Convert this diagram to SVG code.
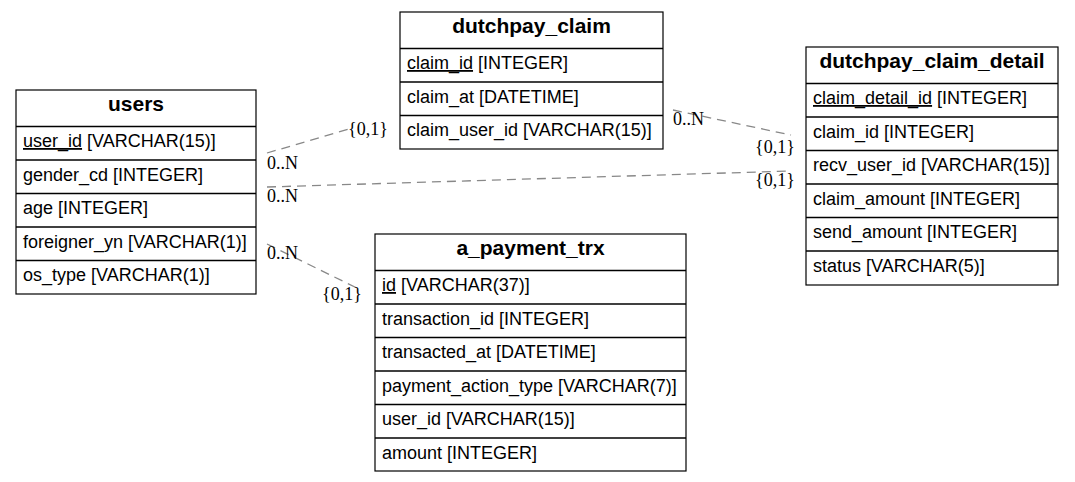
<svg xmlns="http://www.w3.org/2000/svg" width="1075" height="482" viewBox="0 0 1075 482">
<style>
.box{fill:#fff;stroke:#000;stroke-width:1.2}
.sep{stroke:#000;stroke-width:1.5}
.hd{font-family:"Liberation Sans",Arial,sans-serif;font-size:21px;font-weight:bold;text-anchor:middle;fill:#000}
.f{font-family:"Liberation Sans",Arial,sans-serif;font-size:18px;fill:#000}
.e{fill:none;stroke:#888;stroke-width:1.3;stroke-dasharray:9,6}
.lb{font-family:"Liberation Serif","Times New Roman",serif;font-size:18px;fill:#000}
.u{text-decoration:underline}
</style>
<rect width="1075" height="482" fill="#fff"/>
<g id="connectors">
<line class="e" x1="267" y1="153" x2="349" y2="129"/>
<line class="e" x1="267" y1="187" x2="791" y2="171"/>
<line class="e" x1="267" y1="244" x2="361" y2="290"/>
<line class="e" x1="673" y1="110" x2="791" y2="135"/>
<text class="lb" x="267" y="169">0..N</text>
<text class="lb" x="348" y="135">{0,1}</text>
<text class="lb" x="267" y="202">0..N</text>
<text class="lb" x="755" y="186">{0,1}</text>
<text class="lb" x="267" y="259">0..N</text>
<text class="lb" x="322" y="300">{0,1}</text>
<text class="lb" x="673" y="125">0..N</text>
<text class="lb" x="755" y="153">{0,1}</text>
</g>
<g id="users">
<rect class="box" x="16" y="90" width="240" height="204"/>
<line class="sep" x1="16" y1="126.5" x2="256" y2="126.5"/>
<line class="sep" x1="16" y1="160" x2="256" y2="160"/>
<line class="sep" x1="16" y1="193.5" x2="256" y2="193.5"/>
<line class="sep" x1="16" y1="227" x2="256" y2="227"/>
<line class="sep" x1="16" y1="260.5" x2="256" y2="260.5"/>
<text class="hd" x="136" y="111">users</text>
<text class="f" x="23" y="147"><tspan class="u">user_id</tspan> [VARCHAR(15)]</text>
<text class="f" x="23" y="180.5">gender_cd [INTEGER]</text>
<text class="f" x="23" y="214">age [INTEGER]</text>
<text class="f" x="23" y="247.5">foreigner_yn [VARCHAR(1)]</text>
<text class="f" x="23" y="281">os_type [VARCHAR(1)]</text>
</g>
<g id="dutchpay_claim">
<rect class="box" x="400" y="12" width="263" height="137"/>
<line class="sep" x1="400" y1="48.5" x2="663" y2="48.5"/>
<line class="sep" x1="400" y1="82" x2="663" y2="82"/>
<line class="sep" x1="400" y1="115.5" x2="663" y2="115.5"/>
<text class="hd" x="531.5" y="33">dutchpay_claim</text>
<text class="f" x="407" y="69"><tspan class="u">claim_id</tspan> [INTEGER]</text>
<text class="f" x="407" y="102.5">claim_at [DATETIME]</text>
<text class="f" x="407" y="136">claim_user_id [VARCHAR(15)]</text>
</g>
<g id="dutchpay_claim_detail">
<rect class="box" x="806" y="47" width="252" height="238"/>
<line class="sep" x1="806" y1="83.5" x2="1058" y2="83.5"/>
<line class="sep" x1="806" y1="117" x2="1058" y2="117"/>
<line class="sep" x1="806" y1="150.5" x2="1058" y2="150.5"/>
<line class="sep" x1="806" y1="184" x2="1058" y2="184"/>
<line class="sep" x1="806" y1="217.5" x2="1058" y2="217.5"/>
<line class="sep" x1="806" y1="251" x2="1058" y2="251"/>
<text class="hd" x="932" y="68">dutchpay_claim_detail</text>
<text class="f" x="813" y="104"><tspan class="u">claim_detail_id</tspan> [INTEGER]</text>
<text class="f" x="813" y="137.5">claim_id [INTEGER]</text>
<text class="f" x="813" y="171">recv_user_id [VARCHAR(15)]</text>
<text class="f" x="813" y="204.5">claim_amount [INTEGER]</text>
<text class="f" x="813" y="238">send_amount [INTEGER]</text>
<text class="f" x="813" y="271.5">status [VARCHAR(5)]</text>
</g>
<g id="a_payment_trx">
<rect class="box" x="375" y="234" width="311" height="237"/>
<line class="sep" x1="375" y1="270.5" x2="686" y2="270.5"/>
<line class="sep" x1="375" y1="304" x2="686" y2="304"/>
<line class="sep" x1="375" y1="337.5" x2="686" y2="337.5"/>
<line class="sep" x1="375" y1="371" x2="686" y2="371"/>
<line class="sep" x1="375" y1="404.5" x2="686" y2="404.5"/>
<line class="sep" x1="375" y1="438" x2="686" y2="438"/>
<text class="hd" x="530.5" y="255">a_payment_trx</text>
<text class="f" x="382" y="291"><tspan class="u">id</tspan> [VARCHAR(37)]</text>
<text class="f" x="382" y="324.5">transaction_id [INTEGER]</text>
<text class="f" x="382" y="358">transacted_at [DATETIME]</text>
<text class="f" x="382" y="391.5">payment_action_type [VARCHAR(7)]</text>
<text class="f" x="382" y="425">user_id [VARCHAR(15)]</text>
<text class="f" x="382" y="458.5">amount [INTEGER]</text>
</g>
</svg>
